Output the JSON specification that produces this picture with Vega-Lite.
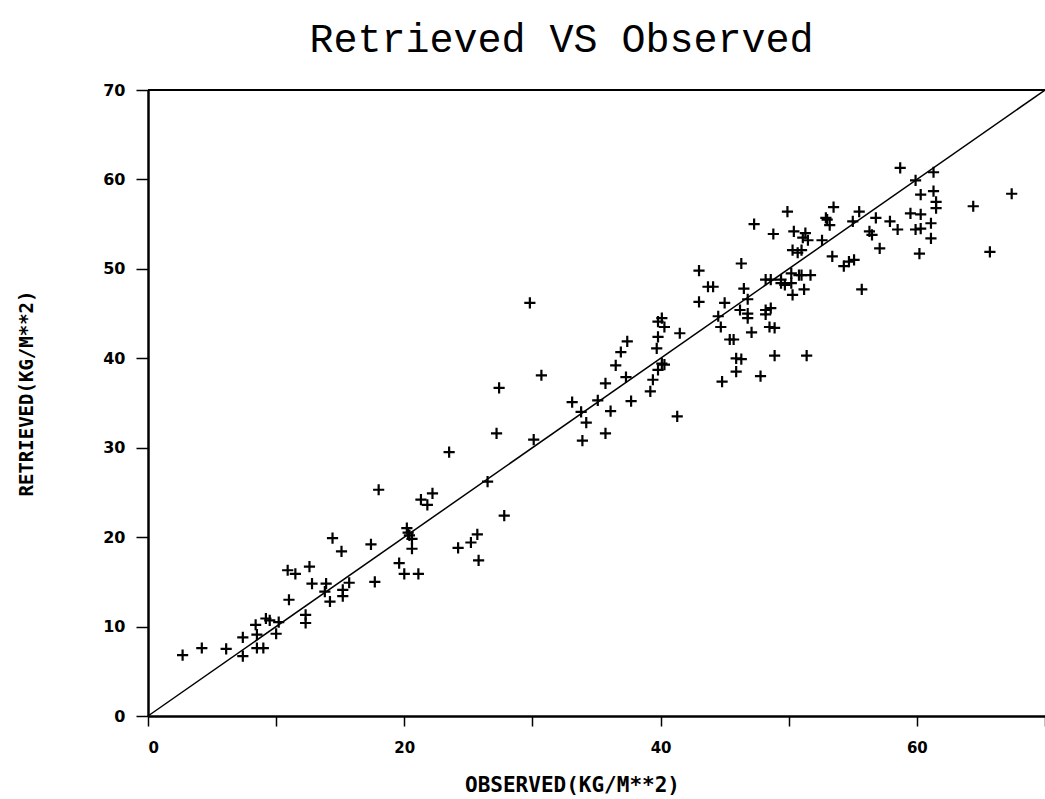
{
  "$schema": "https://vega.github.io/schema/vega-lite/v6.json",
  "autosize": "none",
  "width": 897,
  "height": 626,
  "padding": {"left": 148, "top": 90, "right": 0, "bottom": 83},
  "background": "white",
  "config": {"view": {"stroke": null}},
  "title": {"text": "Retrieved VS Observed", "font": "Liberation Mono", "fontSize": 40, "fontWeight": "normal", "color": "black", "anchor": "middle", "dx": -35, "offset": 22},
  "datasets": {
    "pts": [
      {"obs": 2.7, "ret": 6.8}, {"obs": 4.2, "ret": 7.6}, {"obs": 6.1, "ret": 7.5}, {"obs": 7.4, "ret": 6.7},
      {"obs": 7.4, "ret": 8.8}, {"obs": 8.4, "ret": 10.2}, {"obs": 8.5, "ret": 9.1}, {"obs": 8.5, "ret": 7.6},
      {"obs": 9.0, "ret": 7.6}, {"obs": 9.2, "ret": 10.9}, {"obs": 9.5, "ret": 10.7}, {"obs": 10.2, "ret": 10.5},
      {"obs": 10.0, "ret": 9.2}, {"obs": 11.0, "ret": 13.0}, {"obs": 10.9, "ret": 16.3}, {"obs": 11.5, "ret": 15.9},
      {"obs": 12.6, "ret": 16.7}, {"obs": 12.8, "ret": 14.8}, {"obs": 12.3, "ret": 11.3}, {"obs": 12.3, "ret": 10.4},
      {"obs": 13.9, "ret": 14.8}, {"obs": 13.8, "ret": 13.9}, {"obs": 14.2, "ret": 12.8}, {"obs": 15.2, "ret": 14.1},
      {"obs": 15.2, "ret": 13.4}, {"obs": 15.7, "ret": 14.9}, {"obs": 17.7, "ret": 15.0}, {"obs": 14.4, "ret": 19.9},
      {"obs": 15.1, "ret": 18.4}, {"obs": 17.4, "ret": 19.2}, {"obs": 18.0, "ret": 25.3}, {"obs": 19.6, "ret": 17.1},
      {"obs": 20.0, "ret": 15.9}, {"obs": 21.1, "ret": 15.9}, {"obs": 20.2, "ret": 21.0}, {"obs": 20.4, "ret": 20.2},
      {"obs": 20.6, "ret": 18.7}, {"obs": 20.3, "ret": 20.5}, {"obs": 20.6, "ret": 19.8}, {"obs": 21.3, "ret": 24.2},
      {"obs": 21.8, "ret": 23.6}, {"obs": 22.2, "ret": 24.9}, {"obs": 23.5, "ret": 29.5}, {"obs": 24.2, "ret": 18.8},
      {"obs": 25.2, "ret": 19.4}, {"obs": 25.7, "ret": 20.3}, {"obs": 25.8, "ret": 17.4}, {"obs": 26.5, "ret": 26.2},
      {"obs": 27.2, "ret": 31.6}, {"obs": 27.4, "ret": 36.7}, {"obs": 27.8, "ret": 22.4}, {"obs": 30.1, "ret": 30.9},
      {"obs": 29.8, "ret": 46.2}, {"obs": 30.7, "ret": 38.1}, {"obs": 33.1, "ret": 35.1}, {"obs": 33.8, "ret": 34.0},
      {"obs": 34.2, "ret": 32.8}, {"obs": 33.9, "ret": 30.8}, {"obs": 35.7, "ret": 31.6}, {"obs": 36.1, "ret": 34.1},
      {"obs": 35.1, "ret": 35.3}, {"obs": 35.7, "ret": 37.2}, {"obs": 36.5, "ret": 39.2}, {"obs": 36.9, "ret": 40.7},
      {"obs": 37.4, "ret": 41.9}, {"obs": 37.3, "ret": 37.9}, {"obs": 37.7, "ret": 35.2}, {"obs": 41.3, "ret": 33.5},
      {"obs": 39.2, "ret": 36.3}, {"obs": 39.4, "ret": 37.6}, {"obs": 39.7, "ret": 41.1}, {"obs": 39.8, "ret": 42.4},
      {"obs": 39.8, "ret": 44.1}, {"obs": 40.1, "ret": 44.5}, {"obs": 40.3, "ret": 43.5}, {"obs": 40.1, "ret": 39.4},
      {"obs": 40.3, "ret": 39.3}, {"obs": 39.8, "ret": 38.7}, {"obs": 41.5, "ret": 42.8}, {"obs": 43.0, "ret": 49.8},
      {"obs": 43.7, "ret": 48.0}, {"obs": 44.1, "ret": 48.0}, {"obs": 43.0, "ret": 46.3}, {"obs": 44.5, "ret": 44.7},
      {"obs": 44.7, "ret": 43.5}, {"obs": 45.0, "ret": 46.2}, {"obs": 46.2, "ret": 45.4}, {"obs": 45.4, "ret": 42.1},
      {"obs": 45.7, "ret": 42.1}, {"obs": 44.8, "ret": 37.4}, {"obs": 45.9, "ret": 40.0}, {"obs": 46.3, "ret": 39.9},
      {"obs": 45.9, "ret": 38.5}, {"obs": 46.3, "ret": 50.6}, {"obs": 46.5, "ret": 47.8}, {"obs": 46.8, "ret": 46.6},
      {"obs": 46.8, "ret": 45.0}, {"obs": 46.8, "ret": 44.5}, {"obs": 47.1, "ret": 42.9}, {"obs": 47.8, "ret": 38.0},
      {"obs": 48.9, "ret": 40.3}, {"obs": 47.3, "ret": 55.0}, {"obs": 48.8, "ret": 53.9}, {"obs": 48.2, "ret": 48.8},
      {"obs": 48.6, "ret": 48.8}, {"obs": 48.2, "ret": 45.4}, {"obs": 48.6, "ret": 45.6}, {"obs": 48.2, "ret": 44.9},
      {"obs": 48.5, "ret": 43.5}, {"obs": 48.9, "ret": 43.4}, {"obs": 49.4, "ret": 48.4}, {"obs": 49.7, "ret": 48.2},
      {"obs": 50.2, "ret": 48.4}, {"obs": 50.3, "ret": 47.1}, {"obs": 50.4, "ret": 54.2}, {"obs": 49.9, "ret": 56.4},
      {"obs": 50.3, "ret": 52.1}, {"obs": 50.7, "ret": 51.8}, {"obs": 51.0, "ret": 52.1}, {"obs": 51.3, "ret": 54.0},
      {"obs": 51.5, "ret": 53.2}, {"obs": 51.0, "ret": 49.3}, {"obs": 51.7, "ret": 49.3}, {"obs": 51.2, "ret": 47.7},
      {"obs": 51.4, "ret": 40.3}, {"obs": 52.6, "ret": 53.2}, {"obs": 52.9, "ret": 55.7}, {"obs": 53.2, "ret": 54.9},
      {"obs": 53.5, "ret": 56.9}, {"obs": 53.4, "ret": 51.4}, {"obs": 54.3, "ret": 50.3}, {"obs": 54.7, "ret": 50.8},
      {"obs": 55.1, "ret": 51.0}, {"obs": 55.7, "ret": 47.7}, {"obs": 55.5, "ret": 56.4}, {"obs": 55.0, "ret": 55.3},
      {"obs": 56.8, "ret": 55.7}, {"obs": 56.3, "ret": 54.2}, {"obs": 56.5, "ret": 53.8}, {"obs": 57.1, "ret": 52.3},
      {"obs": 57.9, "ret": 55.3}, {"obs": 58.7, "ret": 61.3}, {"obs": 59.9, "ret": 59.9}, {"obs": 61.3, "ret": 60.8},
      {"obs": 60.3, "ret": 58.3}, {"obs": 61.3, "ret": 58.7}, {"obs": 61.5, "ret": 57.5}, {"obs": 61.5, "ret": 56.8},
      {"obs": 59.5, "ret": 56.2}, {"obs": 60.3, "ret": 56.1}, {"obs": 61.1, "ret": 55.1}, {"obs": 59.9, "ret": 54.4},
      {"obs": 60.3, "ret": 54.5}, {"obs": 61.1, "ret": 53.4}, {"obs": 60.2, "ret": 51.7}, {"obs": 64.4, "ret": 57.0},
      {"obs": 67.4, "ret": 58.4}, {"obs": 65.7, "ret": 51.9}, {"obs": 58.5, "ret": 54.4}, {"obs": 49.4, "ret": 48.8},
      {"obs": 50.2, "ret": 49.5}, {"obs": 50.8, "ret": 49.3}, {"obs": 51.1, "ret": 53.5}, {"obs": 53.0, "ret": 55.5}
    ],
    "oneone": [{"obs": 0, "ret": 0}, {"obs": 70, "ret": 70}],
    "frame": [{"ret": 70}]
  },
  "layer": [
    {
      "data": {"name": "frame"},
      "mark": {"type": "rule", "color": "black", "strokeWidth": 2},
      "encoding": {"y": {"field": "ret", "type": "quantitative", "scale": {"domain": [0, 70], "nice": false}}}
    },
    {
      "data": {"name": "oneone"},
      "mark": {"type": "line", "color": "black", "strokeWidth": 1.5},
      "encoding": {
        "x": {"field": "obs", "type": "quantitative"},
        "y": {"field": "ret", "type": "quantitative"}
      }
    },
    {
      "data": {"name": "pts"},
      "mark": {"type": "point", "shape": "M-1,0L1,0M0,-1L0,1", "filled": false, "stroke": "black", "strokeWidth": 2.2, "size": 125, "opacity": 1},
      "encoding": {
        "x": {
          "field": "obs", "type": "quantitative",
          "scale": {"domain": [0, 70], "nice": false},
          "axis": {
            "title": "OBSERVED(KG/M**2)", "values": [0, 10, 20, 30, 40, 50, 60, 70],
            "labelExpr": "(datum.value % 20 == 0 && datum.value < 70) ? datum.label : ''",
            "grid": false, "domainColor": "black", "domainWidth": 2.5, "tickColor": "black", "tickWidth": 1.5, "tickSize": 10,
            "labelFont": "DejaVu Sans", "labelFontSize": 15, "labelFontWeight": "bold", "labelColor": "black", "labelPadding": 14,
            "titleFont": "DejaVu Sans Mono", "titleFontSize": 21, "titleFontWeight": "bold", "titleColor": "black", "titlePadding": 19, "titleX": 424
          }
        },
        "y": {
          "field": "ret", "type": "quantitative",
          "scale": {"domain": [0, 70], "nice": false},
          "axis": {
            "title": "RETRIEVED(KG/M**2)", "values": [0, 10, 20, 30, 40, 50, 60, 70],
            "grid": false, "domainColor": "black", "domainWidth": 2.5, "tickColor": "black", "tickWidth": 1.5, "tickSize": 12,
            "labelFont": "DejaVu Sans", "labelFontSize": 16, "labelFontWeight": "bold", "labelColor": "black", "labelPadding": 11,
            "titleFont": "DejaVu Sans Mono", "titleFontSize": 19, "titleFontWeight": "bold", "titleColor": "black", "titlePadding": 66, "titleY": 303
          }
        }
      }
    }
  ]
}
